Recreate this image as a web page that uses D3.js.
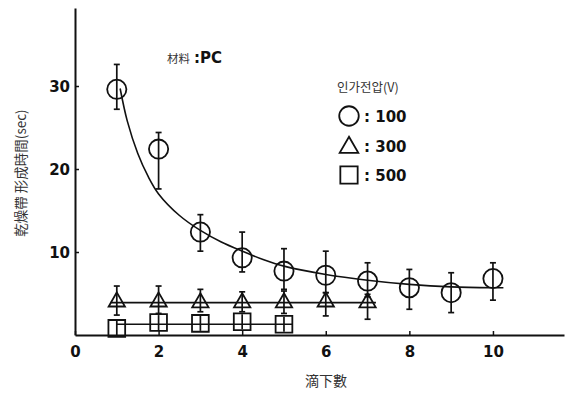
<!DOCTYPE html>
<meta charset="utf-8">
<script src="https://d3js.org/d3.v7.min.js"></script>
<style>
  body { margin: 0; background: #fff; }
  .cjk { font-family: "Noto Sans CJK JP", "Noto Sans CJK KR", sans-serif; fill: #333; }
  .num { font-family: "DejaVu Sans", sans-serif; font-weight: bold; fill: #111; }
</style>
<div id="chart"></div>
<script>

// drops (x) and drying band formation time (sec)
var drops100 = [1, 2, 3, 4, 5, 6, 7, 8, 9, 10];
var time100 = [29.6, 22.4, 12.4, 9.3, 7.7, 7.2, 6.5, 5.7, 5.1, 6.8];
var hi100 = [32.6, 24.4, 14.5, 12.4, 10.4, 10.1, 8.7, 7.9, 7.5, 8.7];
var lo100 = [27.2, 17.6, 10.1, 7.6, 5.5, 5.1, 4.6, 3.1, 2.7, 4.2];

var drops300 = [1, 2, 3, 4, 5, 6, 7];
var time300 = [4.0, 4.0, 3.9, 3.9, 3.9, 4.0, 3.9];
var hi300 = [5.9, 5.9, 5.5, 5.2, 5.3, 5.1, 4.9];
var lo300 = [2.4, 2.6, 2.8, 2.8, 2.6, 2.3, 1.9];

var drops500 = [1, 2, 3, 4, 5];
var time500 = [0.8, 1.5, 1.4, 1.6, 1.3];
var hi500 = [1.7, 2.4, 2.3, 2.5, 2.2];
var lo500 = [0.0, 0.6, 0.5, 0.7, 0.4];

// hand drawn fit lines
var fit100X = [1.08, 1.25, 1.5, 1.75, 2, 2.5, 3, 3.5, 4, 4.5, 5, 6, 7, 8, 9, 10, 10.25];
var fit100Y = [29.7, 25.8, 21.9, 19.1, 17.0, 14.4, 12.6, 11.2, 10.1, 9.1, 8.3, 7.3, 6.6, 6.1, 5.8, 5.7, 5.7];
var fit300X = [0.85, 7.2];
var fit300Y = [3.9, 3.9];
var fit500X = [1, 5.2];
var fit500Y = [1.3, 1.3];

var xTicks = [0, 2, 4, 6, 8, 10];
var yTicks = [10, 20, 30];
var legendLabels = ["100", "300", "500"];

var W = 573, H = 393;

var svg = d3.select("#chart")
    .append("svg")
    .attr("width", W)
    .attr("height", H);

var x = d3.scaleLinear().domain([0, 11.7]).range([75, 564]);
var y = d3.scaleLinear().domain([0, 39.4]).range([335, 8]);

// axes
var xAxis = svg.append("g")
    .attr("transform", "translate(0," + y(0) + ")")
    .call(d3.axisBottom(x).tickValues(xTicks).tickSize(-4).tickSizeOuter(0).tickPadding(11));
var yAxis = svg.append("g")
    .attr("transform", "translate(" + x(0) + ",0)")
    .call(d3.axisLeft(y).tickValues(yTicks).tickSize(-4).tickSizeOuter(0).tickPadding(5));

[xAxis, yAxis].forEach(function (g) {
    g.select(".domain").attr("stroke", "#111").attr("stroke-width", 2);
    g.selectAll(".tick line").attr("stroke", "#111").attr("stroke-width", 1.5);
    g.selectAll(".tick text").attr("class", "num").style("font-size", "15px");
});
yAxis.selectAll(".tick text").attr("dy", "0.36em");

// fit lines
var line = d3.line().x(function (d) { return x(d[0]); }).y(function (d) { return y(d[1]); });
svg.append("path")
    .datum(d3.zip(fit100X, fit100Y))
    .attr("d", line.curve(d3.curveCatmullRom.alpha(0.5)))
    .attr("fill", "none").attr("stroke", "#111").attr("stroke-width", 1.6);
svg.append("path")
    .datum(d3.zip(fit300X, fit300Y))
    .attr("d", line.curve(d3.curveLinear))
    .attr("fill", "none").attr("stroke", "#111").attr("stroke-width", 1.6);
svg.append("path")
    .datum(d3.zip(fit500X, fit500Y))
    .attr("d", line.curve(d3.curveLinear))
    .attr("fill", "none").attr("stroke", "#111").attr("stroke-width", 1.6);

// error bars + symbols
function series(xs, ys, his, los, symbol, size, caps) {
    var data = xs.map(function (d, i) { return { x: d, y: ys[i], hi: his[i], lo: los[i] }; });
    var g = svg.append("g");
    var bars = g.selectAll(".bar").data(data).enter().append("g");
    bars.append("line")
        .attr("x1", function (d) { return x(d.x); })
        .attr("x2", function (d) { return x(d.x); })
        .attr("y1", function (d) { return y(d.hi); })
        .attr("y2", function (d) { return y(d.lo); })
        .attr("stroke", "#111").attr("stroke-width", 1.7);
    if (caps) {
        ["hi", "lo"].forEach(function (k) {
            bars.append("line")
                .attr("x1", function (d) { return x(d.x) - 3; })
                .attr("x2", function (d) { return x(d.x) + 3; })
                .attr("y1", function (d) { return y(d[k]); })
                .attr("y2", function (d) { return y(d[k]); })
                .attr("stroke", "#111").attr("stroke-width", 1.7);
        });
    }
    g.selectAll(".pt").data(data).enter().append("path")
        .attr("d", d3.symbol().type(symbol).size(size))
        .attr("transform", function (d) { return "translate(" + x(d.x) + "," + y(d.y) + ")"; })
        .attr("fill", "none").attr("stroke", "#111").attr("stroke-width", 1.8);
}
series(drops100, time100, hi100, lo100, d3.symbolCircle, 290, true);
series(drops300, time300, hi300, lo300, d3.symbolTriangle, 115, true);
series(drops500, time500, hi500, lo500, d3.symbolSquare, 280, false);

// axis titles
svg.append("text")
    .attr("class", "cjk")
    .attr("transform", "translate(26,173) rotate(-90)")
    .attr("text-anchor", "middle")
    .style("font-size", "13.5px")
    .text("乾燥帶 形成時間(sec)");
svg.append("text")
    .attr("class", "cjk")
    .attr("x", 326).attr("y", 386)
    .attr("text-anchor", "middle")
    .style("font-size", "14px")
    .text("滴下數");

// material note
var note = svg.append("text").attr("x", 167).attr("y", 63);
note.append("tspan").attr("class", "cjk").style("font-size", "11.5px").text("材料");
note.append("tspan").attr("class", "num").style("font-size", "15px").attr("dx", 4).text(":PC");

// legend
svg.append("text")
    .attr("class", "cjk")
    .attr("x", 337).attr("y", 92)
    .style("font-family", "'Noto Sans CJK KR', sans-serif")
    .style("font-size", "12.5px")
    .text("인가전압(V)");

var legendSymbols = [d3.symbolCircle, d3.symbolTriangle, d3.symbolSquare];
var legendSizes = [300, 150, 300];
var leg = svg.selectAll(".leg").data(legendLabels).enter().append("g")
    .attr("transform", function (d, i) { return "translate(349," + (116 + i * 29.5) + ")"; });
leg.append("path")
    .attr("d", function (d, i) { return d3.symbol().type(legendSymbols[i]).size(legendSizes[i])(); })
    .attr("transform", function (d, i) { return i === 1 ? "translate(0,2)" : null; })
    .attr("fill", "none").attr("stroke", "#111").attr("stroke-width", 1.8);
leg.append("text")
    .attr("class", "num")
    .attr("x", 15).attr("y", 6)
    .style("font-size", "15px")
    .text(function (d) { return ": " + d; });

</script>
